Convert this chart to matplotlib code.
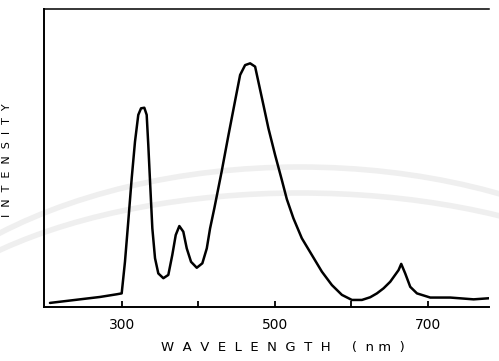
import matplotlib
matplotlib.use('Agg')
import matplotlib.pyplot as plt
from matplotlib.patches import Arc

# emission spectrum (intensity in arbitrary units, 0-100)
wavelength = [205.8, 271.2, 293.1, 299.6, 303.9, 308.2, 312.7, 317.0, 321.3, 324.9,
              329.2, 332.3, 334.4, 336.7, 339.7, 343.2, 347.5, 354.1, 360.6, 365.8,
              370.3, 375.0, 380.2, 384.7, 390.3, 397.8, 405.1, 410.9, 415.2, 420.8,
              430.5, 439.1, 447.9, 454.5, 461.0, 467.6, 474.1, 478.4, 485.0, 491.5,
              500.3, 509.0, 515.6, 524.2, 535.2, 548.3, 561.4, 574.5, 587.6, 600.7,
              613.8, 624.6, 633.4, 642.1, 650.8, 661.7, 665.2, 670.4, 677.0, 685.8,
              703.2, 729.4, 759.9, 781.7]
intensity = [1.2, 3.2, 4.1, 4.4, 15.0, 28.5, 43.0, 55.3, 64.3, 66.5,
             66.7, 64.3, 54.2, 41.9, 26.2, 16.2, 11.1, 9.5, 10.6, 17.3,
             24.0, 27.0, 25.1, 19.5, 15.0, 13.0, 14.5, 19.5, 26.2, 33.0,
             45.5, 57.3, 69.0, 77.7, 81.0, 81.6, 80.5, 75.4, 67.6, 59.8,
             50.8, 42.5, 36.0, 29.6, 22.9, 17.3, 11.7, 7.2, 3.9, 2.2,
             2.2, 3.1, 4.4, 6.1, 8.3, 12.2, 14.3, 11.1, 6.6, 4.4,
             3.0, 3.0, 2.4, 2.8]

xticks = [300, 400, 500, 600, 700]
xticklabels = ['300', '', '500', '', '700']

fig = plt.figure(figsize=(4.99, 3.61), dpi=100)

# faint watermark arcs of the scanned page (pixel coords)
for w, h, yc in [(900, 518, -65), (840, 380, -22)]:
    fig.patches.append(Arc((300, yc), w, h, theta1=0, theta2=180,
                           transform=None, color='#efefef', lw=4, zorder=0))

ax = fig.add_axes([44 / 499, 1 - 306.5 / 361, 445 / 499, 298 / 361])
ax.set_zorder(1)
ax.patch.set_alpha(0)

ax.plot(wavelength, intensity, color='black', lw=1.8,
        solid_joinstyle='round', solid_capstyle='round')

ax.set_xlim(198, 780)
ax.set_ylim(0, 100)
ax.spines['right'].set_visible(False)
for s in ['left', 'bottom']:
    ax.spines[s].set_linewidth(1.4)
ax.spines['top'].set_linewidth(1.1)

ax.set_xticks(xticks)
ax.set_xticklabels(xticklabels, fontsize=10)
ax.tick_params(axis='x', direction='in', length=4, width=1.3, pad=8)
ax.set_yticks([])

fig.text(283 / 499, 1 - 347 / 361, 'W  A  V  E  L  E  N  G  T  H     (  n m  )',
         fontsize=9.5, ha='center', va='center')
fig.text(7 / 499, 1 - 160 / 361, 'I  N  T  E  N  S  I  T  Y',
         fontsize=8, ha='center', va='center', rotation=90)

fig.savefig('out.png', dpi=100)
